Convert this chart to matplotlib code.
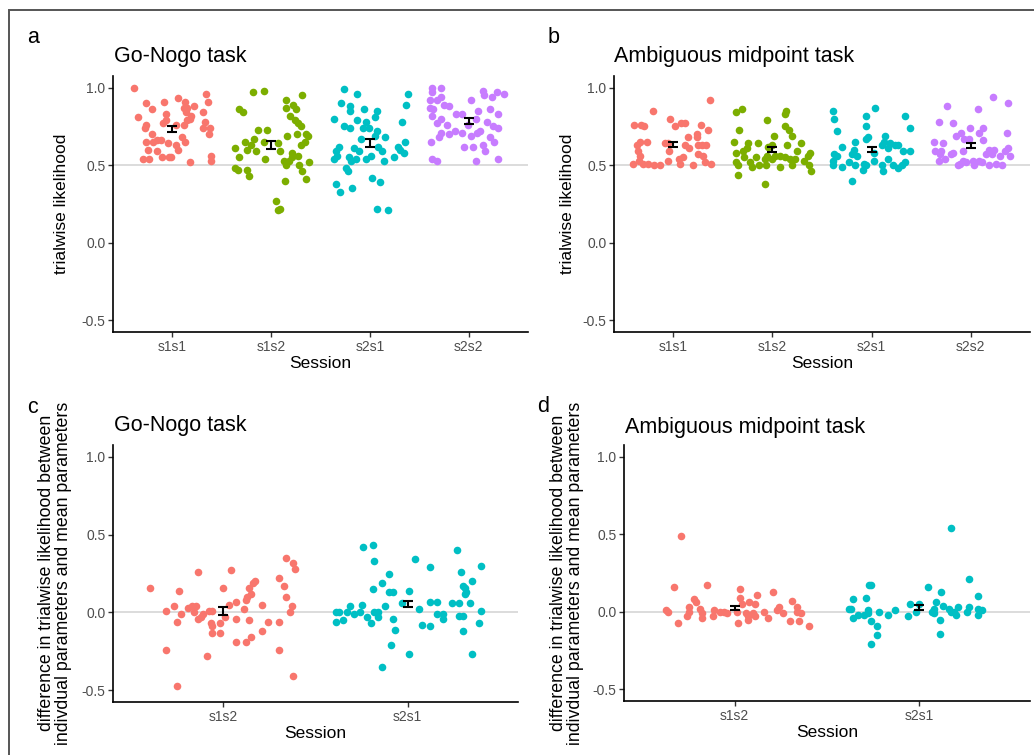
import numpy as np
import matplotlib.pyplot as plt
from matplotlib.patches import Rectangle

plt.rcParams['font.family'] = ['Liberation Sans', 'DejaVu Sans']

W, H = 1034, 755
HUE4 = ['#F8766D', '#7CAE00', '#00BFC4', '#C77CFF']
HUE2 = ['#F8766D', '#00BFC4']

sessions_top = ['s1s1', 's1s2', 's2s1', 's2s2']
sessions_bottom = ['s1s2', 's2s1']

# ---- a: Go-Nogo task, trialwise likelihood (jitter offset, value) ----
a_s1s1_dx = [-0.39, -0.27, -0.08, 0.06, 0.13, 0.34, 0.36, -0.21, -0.35, -0.06, 0.12, 0.15, 0.22, 0.31,
             0.19, 0.18, -0.27, -0.28, -0.09, 0.04, 0.15, 0.12, 0.33, 0.31, 0.38, 0.37, -0.21, -0.20,
             -0.27, -0.15, -0.11, -0.04, 0.04, 0.10, 0.13, -0.25, -0.15, 0.06, -0.10, -0.03, -0.01,
             -0.30, -0.24, 0.18, 0.39, 0.39, -0.06, 0.14]
a_s1s1_y = [1.00, 0.90, 0.91, 0.93, 0.91, 0.96, 0.91, 0.86, 0.81, 0.83, 0.87, 0.87, 0.88, 0.84,
            0.82, 0.80, 0.76, 0.74, 0.77, 0.76, 0.79, 0.76, 0.78, 0.74, 0.74, 0.70, 0.70, 0.65,
            0.65, 0.66, 0.66, 0.64, 0.63, 0.68, 0.65, 0.60, 0.59, 0.60, 0.55, 0.55, 0.55,
            0.54, 0.54, 0.52, 0.56, 0.53, 0.79, 0.84]
a_s1s2_dx = [-0.18, -0.07, 0.31, 0.15, -0.32, -0.28, 0.22, 0.15, 0.25, 0.19, 0.24, 0.27, 0.30, -0.13,
             -0.04, 0.26, 0.35, 0.37, 0.16, -0.17, -0.26, -0.07, 0.07, 0.34, 0.30, -0.20, -0.24, -0.37,
             -0.15, 0.09, 0.21, 0.27, 0.21, -0.32, -0.06, 0.13, 0.18, 0.38, 0.15, 0.28, -0.37, -0.33,
             -0.24, 0.31, -0.22, 0.35, 0.14, 0.05, 0.07, 0.09]
a_s1s2_y = [0.97, 0.98, 0.95, 0.92, 0.86, 0.84, 0.89, 0.87, 0.86, 0.82, 0.79, 0.77, 0.75, 0.73,
            0.73, 0.70, 0.70, 0.69, 0.69, 0.67, 0.65, 0.65, 0.64, 0.65, 0.63, 0.63, 0.60, 0.61,
            0.59, 0.59, 0.58, 0.56, 0.55, 0.55, 0.54, 0.53, 0.53, 0.52, 0.50, 0.50, 0.48, 0.47,
            0.47, 0.46, 0.43, 0.41, 0.40, 0.27, 0.21, 0.22]
a_s2s1_dx = [-0.26, -0.13, 0.39, -0.29, -0.20, -0.06, 0.07, 0.37, -0.20, -0.36, 0.05, -0.13, -0.04, 0.32,
             -0.26, -0.20, -0.07, -0.01, 0.07, 0.05, 0.15, -0.09, 0.36, -0.31, -0.16, 0.08, 0.28, -0.34,
             -0.11, 0.12, 0.30, 0.34, -0.33, -0.21, -0.14, 0.01, 0.24, -0.36, -0.04, 0.14, -0.19, -0.24,
             -0.22, 0.02, 0.10, -0.34, -0.18, -0.30, 0.07, 0.18]
a_s2s1_y = [0.99, 0.96, 0.96, 0.90, 0.88, 0.86, 0.85, 0.89, 0.85, 0.80, 0.81, 0.79, 0.78, 0.78,
            0.75, 0.74, 0.74, 0.74, 0.72, 0.69, 0.68, 0.67, 0.65, 0.62, 0.61, 0.62, 0.62, 0.59,
            0.59, 0.59, 0.60, 0.58, 0.56, 0.55, 0.54, 0.56, 0.55, 0.54, 0.54, 0.53, 0.53, 0.48,
            0.46, 0.42, 0.39, 0.38, 0.35, 0.33, 0.22, 0.21]
a_s2s2_dx = [-0.37, -0.28, -0.37, 0.14, 0.24, 0.29, 0.36, 0.15, -0.39, -0.32, -0.28, 0.02, -0.39, -0.25,
             -0.20, -0.36, 0.22, 0.09, -0.37, -0.13, -0.07, 0.30, -0.28, 0.07, 0.18, -0.32, -0.22, -0.01,
             0.25, 0.30, -0.14, -0.07, 0.11, 0.08, -0.28, -0.20, 0.02, 0.22, -0.30, 0.26, -0.38, -0.05,
             0.04, 0.14, 0.16, -0.37, -0.32, 0.07, 0.30]
a_s2s2_y = [1.00, 1.00, 0.97, 0.98, 0.94, 0.97, 0.96, 0.95, 0.92, 0.92, 0.94, 0.92, 0.87, 0.89,
            0.88, 0.86, 0.86, 0.85, 0.82, 0.83, 0.83, 0.83, 0.80, 0.80, 0.78, 0.77, 0.76, 0.76,
            0.75, 0.74, 0.72, 0.71, 0.72, 0.71, 0.71, 0.70, 0.69, 0.68, 0.68, 0.65, 0.65, 0.62,
            0.62, 0.63, 0.59, 0.54, 0.53, 0.53, 0.54]

# ---- b: Ambiguous midpoint task, trialwise likelihood ----
b_s1s1_dx = [-0.40, -0.33, -0.30, -0.21, -0.03, 0.02, 0.08, 0.12, 0.28, 0.37, 0.35, 0.24, 0.15, 0.24,
             -0.34, -0.27, -0.37, -0.09, -0.05, -0.04, 0.12, 0.16, 0.25, 0.29, 0.33, -0.36, -0.34, -0.35,
             0.25, 0.30, 0.10, -0.05, 0.07, -0.41, -0.31, -0.26, -0.20, -0.14, 0.20, 0.32, 0.38, 0.06]
b_s1s1_y = [0.76, 0.76, 0.75, 0.85, 0.80, 0.75, 0.77, 0.77, 0.76, 0.92, 0.73, 0.70, 0.68, 0.68,
            0.65, 0.65, 0.63, 0.64, 0.64, 0.59, 0.63, 0.61, 0.63, 0.63, 0.63, 0.59, 0.56, 0.53,
            0.57, 0.56, 0.55, 0.53, 0.51, 0.51, 0.51, 0.51, 0.50, 0.50, 0.50, 0.52, 0.51, 0.54]
b_s1s2_dx = [-0.37, -0.31, 0.14, 0.13, -0.06, -0.34, 0.13, 0.17, 0.20, 0.02, -0.39, -0.15, -0.25, 0.29,
             -0.26, -0.05, 0.00, 0.15, -0.37, -0.30, 0.25, 0.38, 0.36, -0.06, 0.08, -0.29, -0.17, 0.03,
             0.13, 0.18, 0.23, 0.32, -0.08, 0.00, -0.37, -0.35, -0.23, -0.14, -0.07, 0.20, 0.37, -0.21,
             0.08, 0.39, -0.35, -0.08]
b_s1s2_y = [0.84, 0.86, 0.85, 0.83, 0.79, 0.73, 0.75, 0.73, 0.69, 0.69, 0.65, 0.64, 0.64, 0.64,
            0.61, 0.62, 0.63, 0.63, 0.58, 0.59, 0.59, 0.58, 0.56, 0.56, 0.56, 0.55, 0.55, 0.56,
            0.55, 0.54, 0.54, 0.53, 0.54, 0.54, 0.52, 0.50, 0.52, 0.50, 0.50, 0.50, 0.50, 0.49,
            0.49, 0.46, 0.44, 0.38]
b_s2s1_dx = [-0.39, -0.38, 0.04, -0.06, 0.34, -0.35, -0.06, 0.39, -0.04, -0.06, 0.14, -0.17, 0.13, -0.30,
             0.11, 0.19, 0.24, 0.27, -0.18, 0.17, 0.39, 0.32, -0.38, -0.20, -0.15, 0.02, -0.35, 0.17,
             -0.39, -0.23, -0.08, 0.02, 0.34, -0.39, -0.30, -0.17, -0.06, 0.11, 0.22, 0.31, -0.09, 0.12,
             0.27, -0.20]
b_s2s1_y = [0.85, 0.80, 0.87, 0.82, 0.82, 0.72, 0.75, 0.74, 0.68, 0.67, 0.69, 0.65, 0.65, 0.62,
            0.63, 0.64, 0.63, 0.63, 0.60, 0.61, 0.59, 0.59, 0.57, 0.57, 0.56, 0.58, 0.56, 0.54,
            0.53, 0.52, 0.51, 0.53, 0.52, 0.50, 0.49, 0.50, 0.50, 0.50, 0.50, 0.50, 0.47, 0.46,
            0.48, 0.40]
b_s2s2_dx = [-0.24, 0.23, 0.38, 0.07, -0.32, -0.18, -0.01, 0.13, 0.37, -0.10, 0.09, -0.15, -0.07, -0.02,
             -0.37, -0.28, 0.13, -0.36, -0.31, -0.30, -0.18, -0.08, -0.20, 0.24, 0.19, 0.38, 0.35, 0.30,
             0.40, 0.16, 0.22, -0.26, -0.32, -0.08, 0.02, 0.09, -0.05, -0.11, 0.19, 0.26, 0.32, -0.13,
             0.03, 0.12]
b_s2s2_y = [0.88, 0.94, 0.90, 0.86, 0.78, 0.77, 0.74, 0.74, 0.71, 0.71, 0.71, 0.69, 0.67, 0.67,
            0.65, 0.64, 0.66, 0.59, 0.57, 0.59, 0.58, 0.59, 0.57, 0.60, 0.60, 0.61, 0.59, 0.56,
            0.56, 0.57, 0.57, 0.54, 0.53, 0.53, 0.53, 0.53, 0.52, 0.51, 0.50, 0.51, 0.50, 0.50,
            0.50, 0.52]

# ---- c: Go-Nogo task, difference individual - mean parameters ----
c_s1s2_dx = [-0.40, -0.24, -0.14, 0.04, 0.34, 0.38, 0.39, 0.30, 0.33, 0.34, 0.00, 0.14, 0.16, 0.17,
             0.15, 0.13, 0.12, 0.07, 0.03, 0.21, 0.37, 0.36, 0.11, -0.27, -0.31, -0.23, -0.19, -0.17,
             -0.15, -0.16, -0.14, -0.12, -0.11, -0.08, -0.06, 0.01, 0.07, 0.14, 0.24, 0.30, -0.25, -0.02,
             -0.07, -0.06, -0.06, -0.02, 0.21, 0.15, 0.12, 0.07, -0.31, 0.30, -0.09, 0.38, -0.25]
c_s1s2_y = [0.16, 0.14, 0.26, 0.27, 0.35, 0.32, 0.28, 0.22, 0.17, 0.10, 0.16, 0.16, 0.19, 0.20,
            0.12, 0.10, 0.08, 0.07, 0.05, 0.05, 0.04, 0.00, 0.02, 0.04, 0.01, -0.01, 0.03, 0.04,
            0.04, 0.00, -0.04, -0.03, -0.01, 0.01, 0.01, -0.03, -0.04, -0.05, -0.06, -0.06, -0.06, -0.07,
            -0.07, -0.09, -0.13, -0.13, -0.12, -0.16, -0.19, -0.19, -0.24, -0.24, -0.28, -0.41, -0.47]
c_s2s1_dx = [-0.24, -0.19, -0.18, 0.04, 0.27, 0.12, 0.40, -0.10, 0.29, -0.14, 0.35, -0.19, -0.10, -0.08,
             0.01, 0.30, 0.31, 0.31, 0.32, -0.03, 0.12, 0.16, 0.24, 0.28, 0.34, -0.31, -0.25, -0.12,
             0.06, 0.40, -0.39, -0.37, -0.33, -0.26, -0.18, -0.16, -0.29, -0.35, -0.39, -0.22, -0.16, 0.16,
             0.19, 0.19, 0.28, 0.30, -0.20, -0.08, 0.08, 0.12, 0.39, -0.07, 0.30, -0.09, 0.01, 0.35, -0.14]
c_s2s1_y = [0.42, 0.43, 0.33, 0.34, 0.40, 0.29, 0.30, 0.25, 0.26, 0.19, 0.20, 0.15, 0.13, 0.13,
            0.14, 0.17, 0.16, 0.12, 0.13, 0.06, 0.07, 0.07, 0.06, 0.06, 0.06, 0.04, 0.05, 0.04,
            0.02, 0.01, 0.00, 0.00, 0.00, 0.00, 0.00, 0.00, -0.01, -0.05, -0.06, -0.03, -0.03, -0.01,
            -0.01, -0.04, -0.02, -0.02, -0.07, -0.04, -0.08, -0.09, -0.07, -0.11, -0.12, -0.21, -0.27, -0.27, -0.35]

# ---- d: Ambiguous midpoint task, difference individual - mean parameters ----
d_s1s2_dx = [-0.29, -0.33, -0.15, 0.03, 0.12, 0.21, -0.22, -0.21, 0.03, 0.31, -0.25, -0.19, 0.08, 0.11,
             0.24, 0.34, 0.04, -0.37, -0.36, -0.25, -0.11, -0.08, -0.06, 0.01, 0.23, -0.18, -0.04, 0.06,
             0.10, 0.16, 0.26, 0.36, 0.34, -0.26, -0.18, -0.12, 0.07, 0.11, 0.18, -0.31, 0.30, 0.35,
             0.02, 0.40, 0.07]
d_s1s2_y = [0.49, 0.16, 0.17, 0.15, 0.11, 0.13, 0.08, 0.06, 0.09, 0.07, 0.03, 0.02, 0.06, 0.05,
            0.03, 0.03, 0.05, 0.01, 0.00, 0.00, 0.01, 0.00, 0.00, 0.00, 0.01, -0.01, -0.01, -0.01,
            -0.01, 0.00, -0.01, -0.01, 0.00, -0.03, -0.04, -0.03, -0.03, -0.03, -0.04, -0.07, -0.06, -0.06,
            -0.07, -0.09, -0.05]
d_s2s1_dx = [0.17, 0.27, -0.27, -0.26, 0.05, 0.12, 0.32, -0.36, -0.29, -0.05, 0.00, 0.09, 0.13, 0.27,
             0.21, -0.38, -0.37, -0.13, 0.08, 0.16, 0.32, 0.34, -0.22, -0.28, -0.02, 0.07, 0.17, 0.19,
             0.26, -0.33, -0.30, -0.28, -0.17, -0.06, 0.08, 0.20, 0.32, -0.36, -0.26, 0.11, -0.23, -0.23,
             0.11, -0.26]
d_s2s1_y = [0.54, 0.21, 0.17, 0.17, 0.16, 0.13, 0.10, 0.08, 0.09, 0.05, 0.05, 0.06, 0.04, 0.03,
            0.03, 0.02, 0.02, 0.01, 0.02, 0.02, 0.02, 0.01, 0.00, 0.01, 0.00, 0.00, 0.00, 0.00,
            0.00, -0.02, -0.02, -0.01, -0.02, -0.03, -0.01, -0.02, -0.02, -0.04, -0.06, -0.05, -0.09, -0.15,
            -0.14, -0.21]

TICK_GREY = '#4D4D4D'


def px_axes(fig, left, top, right, bottom):
    return fig.add_axes([left / W, 1 - bottom / H, (right - left) / W, (bottom - top) / H])


def ftext(fig, x, y, s, **kw):
    fig.text(x / W, 1 - y / H, s, **kw)


def draw_panel(ax, cats, groups, colors, ref):
    ax.axhline(ref, color='#D9D9D9', lw=1.3, zorder=1)
    for i, ((dx, y), col) in enumerate(zip(groups, colors)):
        x = i + 1 + np.array(dx)
        y = np.array(y)
        ax.scatter(x, y, s=30, color=col, lw=0, zorder=2)
        m = y.mean()
        se = y.std(ddof=1) / np.sqrt(len(y))
        ax.errorbar(i + 1, m, yerr=se, color='black', lw=1.5, capsize=3.5,
                    capthick=1.5, zorder=3)
    ax.set_xlim(0.4, len(cats) + 0.6)
    ax.set_ylim(-0.575, 1.075)
    ax.set_xticks(range(1, len(cats) + 1))
    ax.set_xticklabels(cats)
    ax.set_yticks([-0.5, 0.0, 0.5, 1.0])
    ax.set_yticklabels(['-0.5', '0.0', '0.5', '1.0'])
    for s in ['top', 'right']:
        ax.spines[s].set_visible(False)
    for s in ['left', 'bottom']:
        ax.spines[s].set_linewidth(1.2)
    ax.tick_params(length=3.5, width=1.0, color='#333333', labelcolor=TICK_GREY,
                   labelsize=10, pad=2)
    ax.set_xlabel('Session', fontsize=12.5, labelpad=2)


fig = plt.figure(figsize=(W / 100, H / 100), dpi=100)

# outer frame
fig.patches.append(Rectangle((9 / W, -0.01), 1.02, 1 - 10 / H + 0.01, transform=fig.transFigure,
                             fill=False, edgecolor='#555555', lw=1.4))

ax_a = px_axes(fig, 113, 76, 528, 332)
draw_panel(ax_a, sessions_top,
           [(a_s1s1_dx, a_s1s1_y), (a_s1s2_dx, a_s1s2_y), (a_s2s1_dx, a_s2s1_y), (a_s2s2_dx, a_s2s2_y)],
           HUE4, 0.5)

ax_b = px_axes(fig, 614, 76, 1030, 332)
draw_panel(ax_b, sessions_top,
           [(b_s1s1_dx, b_s1s1_y), (b_s1s2_dx, b_s1s2_y), (b_s2s1_dx, b_s2s1_y), (b_s2s2_dx, b_s2s2_y)],
           HUE4, 0.5)

ax_c = px_axes(fig, 113, 445, 518, 702)
draw_panel(ax_c, sessions_bottom, [(c_s1s2_dx, c_s1s2_y), (c_s2s1_dx, c_s2s1_y)], HUE2, 0.0)

ax_d = px_axes(fig, 624, 445, 1030, 701)
draw_panel(ax_d, sessions_bottom, [(d_s1s2_dx, d_s1s2_y), (d_s2s1_dx, d_s2s1_y)], HUE2, 0.0)

# titles
ftext(fig, 114, 62, 'Go-Nogo task', fontsize=15.5, va='baseline')
ftext(fig, 614, 62, 'Ambiguous midpoint task', fontsize=15.5, va='baseline')
ftext(fig, 114, 431, 'Go-Nogo task', fontsize=15.5, va='baseline')
ftext(fig, 625, 433, 'Ambiguous midpoint task', fontsize=15.5, va='baseline')

# panel letters
ftext(fig, 27, 43, 'a', fontsize=15.5, va='baseline')
ftext(fig, 548, 43, 'b', fontsize=15.5, va='baseline')
ftext(fig, 27, 413, 'c', fontsize=15.5, va='baseline')
ftext(fig, 537, 412, 'd', fontsize=15.5, va='baseline')

# y labels
ftext(fig, 62, 204, 'trialwise likelihood', fontsize=12.5, rotation=90, ha='center', va='center')
ftext(fig, 567, 204, 'trialwise likelihood', fontsize=12.5, rotation=90, ha='center', va='center')
diff_label = 'difference in trialwise likelihood between\nindivdual parameters and mean parameters'
ftext(fig, 55, 573, diff_label, fontsize=12.8, rotation=90, ha='center', va='center',
      linespacing=1.0)
ftext(fig, 567, 573, diff_label, fontsize=12.8, rotation=90, ha='center', va='center',
      linespacing=1.0)

fig.savefig('out.png', dpi=100)
